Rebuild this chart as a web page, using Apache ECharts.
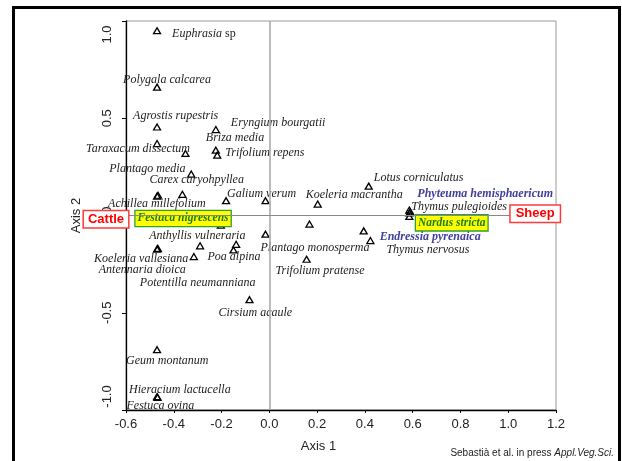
<!DOCTYPE html>
<html><head><meta charset="utf-8">
<script src="https://cdn.jsdelivr.net/npm/echarts@6/dist/echarts.min.js"></script>
<style>html,body{margin:0;padding:0;background:#fff}#c{width:622px;height:461px}</style>
</head><body><div id="c"></div>
<script>
// ---- data ----
const species = ['Euphrasia sp','Polygala calcarea','Agrostis rupestris','Eryngium bourgatii','Briza media','Trifolium repens','Taraxacum dissectum','','Plantago media','Carex caryohpyllea','Achillea millefolium','','Galium verum','','Festuca nigrescens','','Anthyllis vulneraria','Poa alpina','','Koeleria vallesiana','Antennaria dioica','Potentilla neumanniana','Cirsium acaule','Geum montanum','Hieracium lactucella','Festuca ovina','Koeleria macrantha','Lotus corniculatus','Plantago monosperma','Trifolium pratense','Endressia pyrenaica','Thymus nervosus','Phyteuma hemisphaericum','Thymus pulegioides','Nardus stricta',''];
const axis1 = [-0.47,-0.47,-0.47,-0.224,-0.224,-0.218,-0.47,-0.351,-0.327,-0.364,-0.47,-0.466,-0.181,-0.016,-0.203,-0.016,-0.139,-0.150,-0.290,-0.47,-0.467,-0.316,-0.083,-0.47,-0.47,-0.468,0.2025,0.416,0.168,0.156,0.395,0.423,0.586,0.586,0.586,0.59];
const axis2 = [0.95,0.66,0.455,0.442,0.336,0.31,0.37,0.319,0.213,0.109,0.10,0.104,0.076,0.076,-0.049,-0.096,-0.148,-0.177,-0.156,-0.173,-0.169,-0.211,-0.433,-0.69,-0.931,-0.935,0.059,0.151,-0.044,-0.225,-0.079,-0.129,0.028,0.013,-0.005,0.018];
const groupLabels = ['Cattle','Sheep'];
const xTickMin = -0.6, xTickMax = 1.2, xStep = 0.2;
const yTickMin = -1.0, yTickMax = 1.0, yStep = 0.5;

// ---- layout (label offsets in px, label kinds) ----
const labelOffsets = [[15,3],[-34,-7],[-24,-11],[15,-7],[-10,-12],[8,-2],[-71,5],[0,0],[-82,-5],[-33,-14],[-49,8],[0,0],[1,-7],[0,0],[-85.3,-6.6],[0,0],[-87,-8],[-26,7],[0,0],[-63,10],[-59,21.5],[-54,26],[-31,13],[-31,11],[-28,-7],[-31,8],[-12,-9],[5,-8],[-49,24],[-31,12],[16,6],[16,9],[8,-16],[2,-6],[6.7,6.4],[0,0]];
const blueSet = new Set(['Endressia pyrenaica','Phyteuma hemisphaericum']);
const boxSet = new Set(['Festuca nigrescens','Nardus stricta']);

const SERIF = "'Liberation Serif','Times New Roman',serif";
const SANS = "'Liberation Sans',Arial,sans-serif";

const pts = species.map((name, i) => {
  const item = { value: [axis1[i], axis2[i]], name: name };
  if (!name) { item.label = { show: false }; return item; }
  const lab = {
    show: true, position: 'inside', align: 'left', verticalAlign: 'middle', formatter: '{b}',
    offset: labelOffsets[i], fontFamily: SERIF, fontSize: 12, fontStyle: 'italic', color: '#222'
  };
  if (name === 'Euphrasia sp') {
    lab.formatter = '{i|Euphrasia} {n|sp}';
    lab.rich = { i: { fontFamily: SERIF, fontSize: 12, fontStyle: 'italic', color: '#222' },
                 n: { fontFamily: SERIF, fontSize: 12, fontStyle: 'normal', color: '#222' } };
  } else if (blueSet.has(name)) {
    lab.color = '#40409e'; lab.fontWeight = 'bold';
  } else if (boxSet.has(name)) {
    lab.color = '#1d7d1d'; lab.fontWeight = 'bold'; lab.fontSize = 11.5;
    lab.backgroundColor = '#ffff00'; lab.borderColor = '#2f9f2f'; lab.borderWidth = 1.3;
    lab.padding = [2, 2, 1, 2];
  }
  item.label = lab;
  return item;
});

const chart = echarts.init(document.getElementById('c'), null, { renderer: 'canvas' });
chart.setOption({
  animation: false,
  backgroundColor: '#fff',
  grid: { left: 126, top: 21, width: 430, height: 389, show: true, borderColor: '#999', borderWidth: 1, backgroundColor: 'transparent' },
  xAxis: {
    type: 'value', min: xTickMin, max: xTickMax, interval: xStep,
    axisLine: { onZero: false, lineStyle: { color: '#000', width: 1.3 } },
    axisTick: { length: 3, lineStyle: { color: '#000' } },
    splitLine: { show: false },
    axisLabel: { formatter: v => v.toFixed(1), fontFamily: SANS, fontSize: 13, color: '#222', margin: 8 },
    name: 'Axis 1', nameLocation: 'middle', nameGap: 30,
    nameTextStyle: { fontFamily: SANS, fontSize: 13, color: '#222', padding: [0, 45, 0, 0] }
  },
  yAxis: {
    type: 'value', min: yTickMin, max: yTickMax, interval: yStep,
    axisLine: { onZero: false, lineStyle: { color: '#000', width: 1.3 } },
    axisTick: { length: 4, lineStyle: { color: '#000' } },
    splitLine: { show: false },
    axisLabel: {
      rotate: 90, margin: 12,
      formatter: v => {
        const s = v.toFixed(1);
        if (Math.abs(v - yTickMax) < 1e-9) return '{v|' + s + '}{p| }';
        if (Math.abs(v - yTickMin) < 1e-9) return '{p| }{v|' + s + '}';
        return '{v|' + s + '}';
      },
      rich: { v: { fontFamily: SANS, fontSize: 13, color: '#222' }, p: { width: 27 } }
    },
    name: 'Axis 2', nameLocation: 'middle', nameGap: 43,
    nameTextStyle: { fontFamily: SANS, fontSize: 13, color: '#222' }
  },
  series: [{
    type: 'scatter',
    symbol: 'triangle', symbolSize: [7, 6],
    itemStyle: { color: 'rgba(255,255,255,0)', borderColor: '#000', borderWidth: 1.3, opacity: 1 },
    emphasis: { disabled: true },
    data: pts,
    markLine: {
      silent: true, symbol: 'none', label: { show: false }, animation: false,
      data: [
        { xAxis: 0, lineStyle: { color: '#aaa', width: 1.6, type: 'solid' } },
        { yAxis: 0, lineStyle: { color: '#888', width: 1, type: 'solid' } }
      ]
    },
    z: 3
  }],
  graphic: [
    { type: 'rect', z: 100, shape: { x: 13.5, y: 7.5, width: 606, height: 470 }, style: { fill: 'none', stroke: '#000', lineWidth: 3 } },
    { type: 'text', z: 100, x: 106, y: 219.2, style: { text: groupLabels[0], align: 'center', verticalAlign: 'middle', font: 'bold 13px ' + SANS, fill: '#ff0000', backgroundColor: '#fff', borderColor: '#ff3a3a', borderWidth: 1.5, padding: [2, 4, 1, 4] } },
    { type: 'text', z: 100, x: 535.2, y: 213.7, style: { text: groupLabels[1], align: 'center', verticalAlign: 'middle', font: 'bold 13px ' + SANS, fill: '#ff0000', backgroundColor: '#fff', borderColor: '#ff3a3a', borderWidth: 1.5, padding: [2, 5, 1, 5] } },
    { type: 'text', z: 100, x: 614, y: 453, style: { text: '{n|Sebastià et al. in press }{i|Appl.Veg.Sci.}', align: 'right', verticalAlign: 'middle', rich: { n: { font: '10px ' + SANS, fill: '#222' }, i: { font: 'italic 10px ' + SANS, fill: '#222' } } } }
  ]
});
</script>
</body></html>
